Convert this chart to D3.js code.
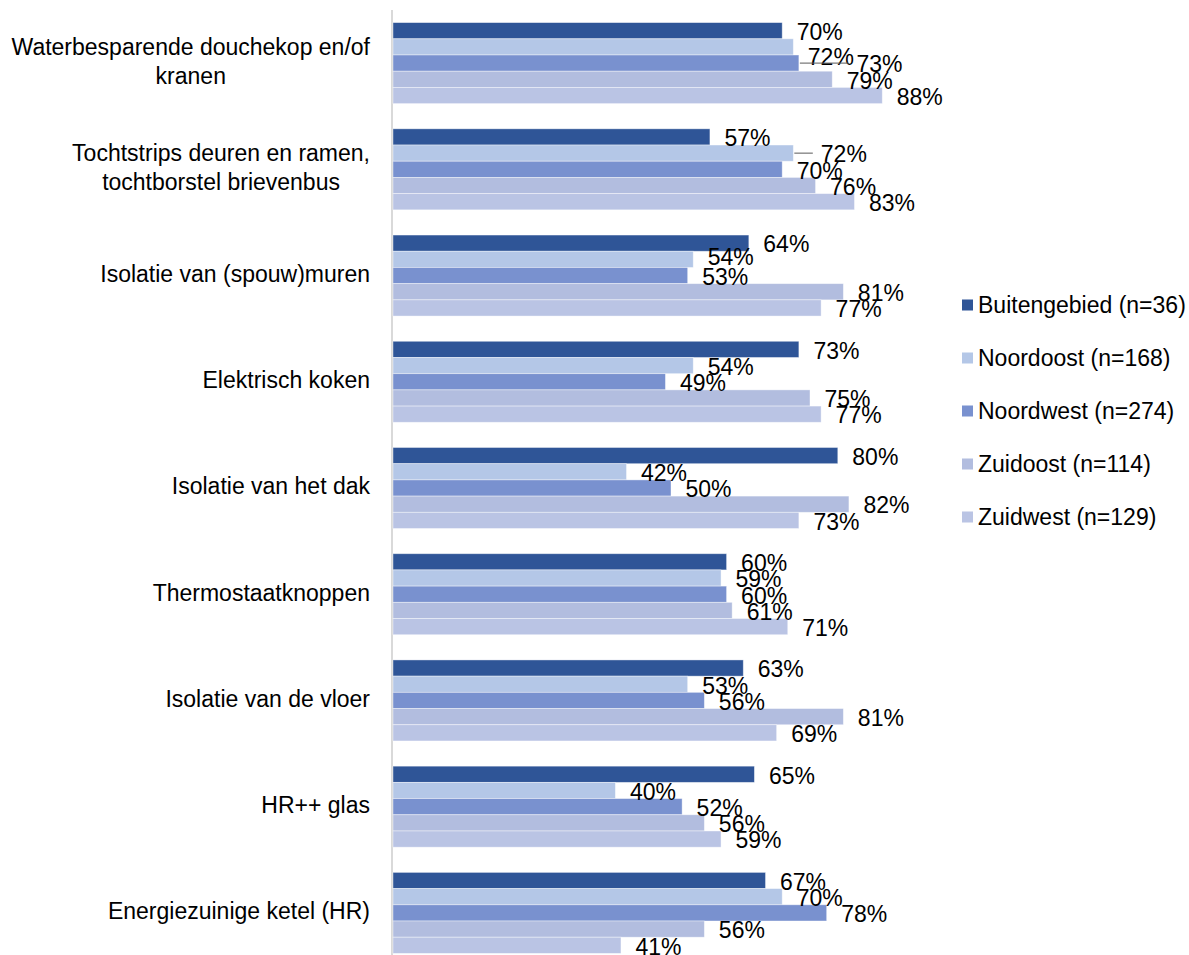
<!DOCTYPE html>
<html>
<head>
<meta charset="utf-8">
<script src="https://cdn.jsdelivr.net/npm/d3@7"></script>
<style>
  body { margin: 0; background: #fff; }
  svg { display: block; font-family: "Liberation Sans", Arial, sans-serif; }
</style>
</head>
<body>
<svg id="chart" width="1189" height="955"></svg>
<script>
// ---- data ----
const categories = [
  ["Waterbesparende douchekop en/of", "kranen"],
  ["Tochtstrips deuren en ramen,", "tochtborstel brievenbus"],
  ["Isolatie van (spouw)muren"],
  ["Elektrisch koken"],
  ["Isolatie van het dak"],
  ["Thermostaatknoppen"],
  ["Isolatie van de vloer"],
  ["HR++ glas"],
  ["Energiezuinige ketel (HR)"]
];
const seriesNames = [
  "Buitengebied (n=36)",
  "Noordoost (n=168)",
  "Noordwest (n=274)",
  "Zuidoost (n=114)",
  "Zuidwest (n=129)"
];
const buitengebied = [70, 57, 64, 73, 80, 60, 63, 65, 67];
const noordoost    = [72, 72, 54, 54, 42, 59, 53, 40, 70];
const noordwest    = [73, 70, 53, 49, 50, 60, 56, 52, 78];
const zuidoost     = [79, 76, 81, 75, 82, 61, 81, 56, 56];
const zuidwest     = [88, 83, 77, 77, 73, 71, 69, 59, 41];
const seriesValues = [buitengebied, noordoost, noordwest, zuidoost, zuidwest];

// ---- styles ----
const colors = ["#2F5597", "#B4C7E7", "#7991CF", "#B2BDDF", "#BAC4E4"];
// label collision nudges (category index, series index, dx, dy, leader)
const nudges = [
  { c: 0, s: 1, dx: 0, dy: 9, leader: false },
  { c: 0, s: 2, dx: 43, dy: 0, leader: true },
  { c: 1, s: 1, dx: 13, dy: 0, leader: true },
  { c: 2, s: 1, dx: 0, dy: -4, leader: false }
];

const svg = d3.select("#chart");
const fontSize = 23;

const catKeys = categories.map((d, i) => i);
const y0 = d3.scaleBand().domain(catKeys).range([10, 966])
  .paddingInner(0.2373).paddingOuter(0.1186);
const y1 = d3.scaleBand().domain(d3.range(seriesNames.length)).range([0, y0.bandwidth()]);
const x = d3.scaleLinear().domain([0, 100]).range([393, 949]);

// axis line
svg.append("line")
  .attr("x1", 392).attr("x2", 392)
  .attr("y1", 10).attr("y2", 955)
  .attr("stroke", "#D9D9D9").attr("stroke-width", 2);

const data = [];
categories.forEach((cat, ci) => {
  seriesValues.forEach((vals, si) => {
    data.push({ ci, si, v: vals[ci] });
  });
});

// bars
svg.append("g").selectAll("rect").data(data).join("rect")
  .attr("x", x(0))
  .attr("y", d => y0(d.ci) + y1(d.si))
  .attr("width", d => x(d.v) - x(0))
  .attr("height", y1.bandwidth())
  .attr("fill", d => colors[d.si])
  .attr("stroke", "#ffffff")
  .attr("stroke-opacity", 0.5)
  .attr("stroke-width", 0.8);

// labels
const gl = svg.append("g");
data.forEach(d => {
  const n = nudges.find(q => q.c === d.ci && q.s === d.si);
  const dx = n ? n.dx : 0, dy = n ? n.dy : 0;
  const bx = x(d.v);
  const cy = y0(d.ci) + y1(d.si) + y1.bandwidth() / 2;
  const lx = bx + 14.5 + dx;
  const ly = cy + 1 + dy;
  if (n && n.leader) {
    gl.append("line")
      .attr("x1", bx + 1).attr("x2", lx - 8)
      .attr("y1", cy).attr("y2", cy)
      .attr("stroke", "#595959").attr("stroke-width", 1);
  }
  gl.append("text")
    .attr("x", lx).attr("y", ly)
    .attr("dy", "0.36em")
    .attr("font-size", fontSize)
    .attr("fill", "#000")
    .text(d.v + "%");
});

// category labels
const gc = svg.append("g");
categories.forEach((lines, ci) => {
  const cy = y0(ci) + y0.bandwidth() / 2;
  const lh = 29;
  const t = gc.append("text")
    .attr("font-size", fontSize)
    .attr("fill", "#000")
    .attr("text-anchor", "middle");
  // measure widest line to right-align the block at x=370
  const tmp = gc.append("text").attr("font-size", fontSize);
  let maxW = 0;
  lines.forEach(l => { tmp.text(l); maxW = Math.max(maxW, tmp.node().getComputedTextLength()); });
  tmp.remove();
  const centerX = 370 - maxW / 2;
  lines.forEach((l, li) => {
    t.append("tspan")
      .attr("x", centerX)
      .attr("y", cy - 2 + (li - (lines.length - 1) / 2) * lh)
      .attr("dy", "0.36em")
      .text(l);
  });
});

// legend
const lg = svg.append("g");
seriesNames.forEach((name, i) => {
  const cy = 305 + i * 53;
  lg.append("rect")
    .attr("x", 962).attr("y", cy - 5.5)
    .attr("width", 11).attr("height", 11)
    .attr("fill", colors[i]);
  lg.append("text")
    .attr("x", 978).attr("y", cy)
    .attr("dy", "0.36em")
    .attr("font-size", fontSize)
    .attr("fill", "#000")
    .text(name);
});
</script>
</body>
</html>
